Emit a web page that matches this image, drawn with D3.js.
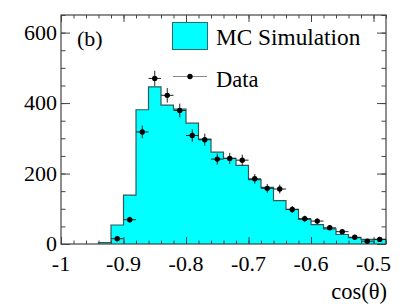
<!DOCTYPE html>
<html><head><meta charset="utf-8">
<script src="https://cdn.jsdelivr.net/npm/d3@7"></script>
<style>
body{margin:0;background:#fff;} svg{display:block;}
svg text{font-family:"Liberation Serif","Times New Roman",Tinos,serif;}
</style>
</head><body>
<svg id="c" width="407" height="306"></svg>
<script>
const binStarts = [-0.94,-0.92,-0.90,-0.88,-0.86,-0.84,-0.82,-0.80,-0.78,-0.76,-0.74,-0.72,-0.70,-0.68,-0.66,-0.64,-0.62,-0.60,-0.58,-0.56,-0.54,-0.52,-0.50];
const binWidth = 0.02;
const mcCounts = [4,54,139,381,446,394,383,343,298,261,243,223,183,161,123,98,70,55,43,27,18,13,13];
const dataX = [-0.91,-0.89,-0.87,-0.85,-0.83,-0.81,-0.79,-0.77,-0.75,-0.73,-0.71,-0.69,-0.67,-0.65,-0.63,-0.61,-0.59,-0.57,-0.55,-0.53,-0.51,-0.49];
const dataY = [15,69,318,470,422,379,308,296,241,243,238,185,158,156,98,72,65,46,35,19,8,13];
const xTickLabels = ["-1","-0.9","-0.8","-0.7","-0.6","-0.5"];
const xTickValues = [-1,-0.9,-0.8,-0.7,-0.6,-0.5];
const yTickValues = [0,200,400,600];

const svg = d3.select("#c");
const FONT = "Liberation Serif";
const L=61, R=386, T=15, B=244;
const x = d3.scaleLinear().domain([-1,-0.48]).range([L,R]);
const y = d3.scaleLinear().domain([0,650]).range([B,T]);
const frame = "#444";

// histogram
const pts = [[binStarts[0],0]];
binStarts.forEach((b,i)=>pts.push([b,mcCounts[i]]));
const lastEnd = binStarts[binStarts.length-1]+binWidth;
pts.push([lastEnd,mcCounts[mcCounts.length-1]]);
pts.push([lastEnd,0]);
const line = d3.line().x(d=>x(d[0])).y(d=>y(d[1])).curve(d3.curveStepAfter);
svg.append("path").attr("d",line(pts)+"Z").attr("fill","#00ffff").attr("stroke","none");
svg.append("path").attr("d",line(pts)).attr("fill","none").attr("stroke","#2f5a5a").attr("stroke-width",1.2);

// axes
const minorX = d3.range(0,27).map(i=>-1+i*0.02);
const minorY = d3.range(0,14).map(i=>i*50);
const gB = svg.append("g").attr("transform",`translate(0,${B})`);
gB.call(d3.axisTop(x).tickValues(minorX).tickSize(3.5).tickFormat(""));
gB.append("g").call(d3.axisTop(x).tickValues(xTickValues).tickSize(7).tickFormat(""));
const gT = svg.append("g").attr("transform",`translate(0,${T})`);
gT.call(d3.axisBottom(x).tickValues(minorX).tickSize(3.5).tickFormat(""));
gT.append("g").call(d3.axisBottom(x).tickValues(xTickValues).tickSize(7).tickFormat(""));
const gL = svg.append("g").attr("transform",`translate(${L},0)`);
gL.call(d3.axisRight(y).tickValues(minorY).tickSize(4.5).tickFormat(""));
gL.append("g").call(d3.axisRight(y).tickValues(yTickValues).tickSize(9).tickFormat(""));
const gR = svg.append("g").attr("transform",`translate(${R},0)`);
gR.call(d3.axisLeft(y).tickValues(minorY).tickSize(4.5).tickFormat(""));
gR.append("g").call(d3.axisLeft(y).tickValues(yTickValues).tickSize(9).tickFormat(""));
svg.selectAll(".domain").remove();
svg.selectAll(".tick line").attr("stroke",frame).attr("stroke-width",1);
svg.append("rect").attr("x",L).attr("y",T).attr("width",R-L).attr("height",B-T).attr("fill","none").attr("stroke",frame).attr("stroke-width",1.2);

// tick labels
svg.selectAll(".xl").data(xTickValues).enter().append("text")
  .attr("font-family",FONT).attr("x",d=>x(d)).attr("y",271).attr("text-anchor","middle").attr("font-size",22)
  .text((d,i)=>xTickLabels[i]);
svg.selectAll(".yl").data(yTickValues).enter().append("text")
  .attr("font-family",FONT).attr("x",57).attr("y",d=>y(d)+7).attr("text-anchor","end").attr("font-size",22)
  .text(d=>d);
svg.append("text").attr("font-family",FONT).attr("x",387).attr("y",299).attr("text-anchor","end").attr("font-size",22.5).text("cos(\u03B8)");

// data points
const gd = svg.append("g");
dataX.forEach((xv,i)=>{
  const v = dataY[i], e = Math.sqrt(v);
  gd.append("line").attr("x1",x(xv-binWidth/2)).attr("x2",x(xv+binWidth/2)).attr("y1",y(v)).attr("y2",y(v)).attr("stroke","#222").attr("stroke-width",1);
  gd.append("line").attr("x1",x(xv)).attr("x2",x(xv)).attr("y1",y(Math.max(0,v-e))).attr("y2",y(v+e)).attr("stroke","#222").attr("stroke-width",1);
  gd.append("circle").attr("cx",x(xv)).attr("cy",y(v)).attr("r",2.7).attr("fill","#000");
});

// label and legend
svg.append("text").attr("font-family",FONT).attr("x",77).attr("y",46).attr("font-size",22).text("(b)");
svg.append("rect").attr("x",172.5).attr("y",22.5).attr("width",35).attr("height",27).attr("fill","#00ffff").attr("stroke","#2f6a6a").attr("stroke-width",1);
svg.append("text").attr("font-family",FONT).attr("x",216).attr("y",45).attr("font-size",23.3).text("MC Simulation");
svg.append("line").attr("x1",173).attr("x2",207).attr("y1",76.5).attr("y2",76.5).attr("stroke","#888").attr("stroke-width",1.2);
svg.append("circle").attr("cx",190).attr("cy",76.5).attr("r",2.7).attr("fill","#000");
svg.append("text").attr("font-family",FONT).attr("x",216).attr("y",87).attr("font-size",22.5).text("Data");
</script>
</body></html>
